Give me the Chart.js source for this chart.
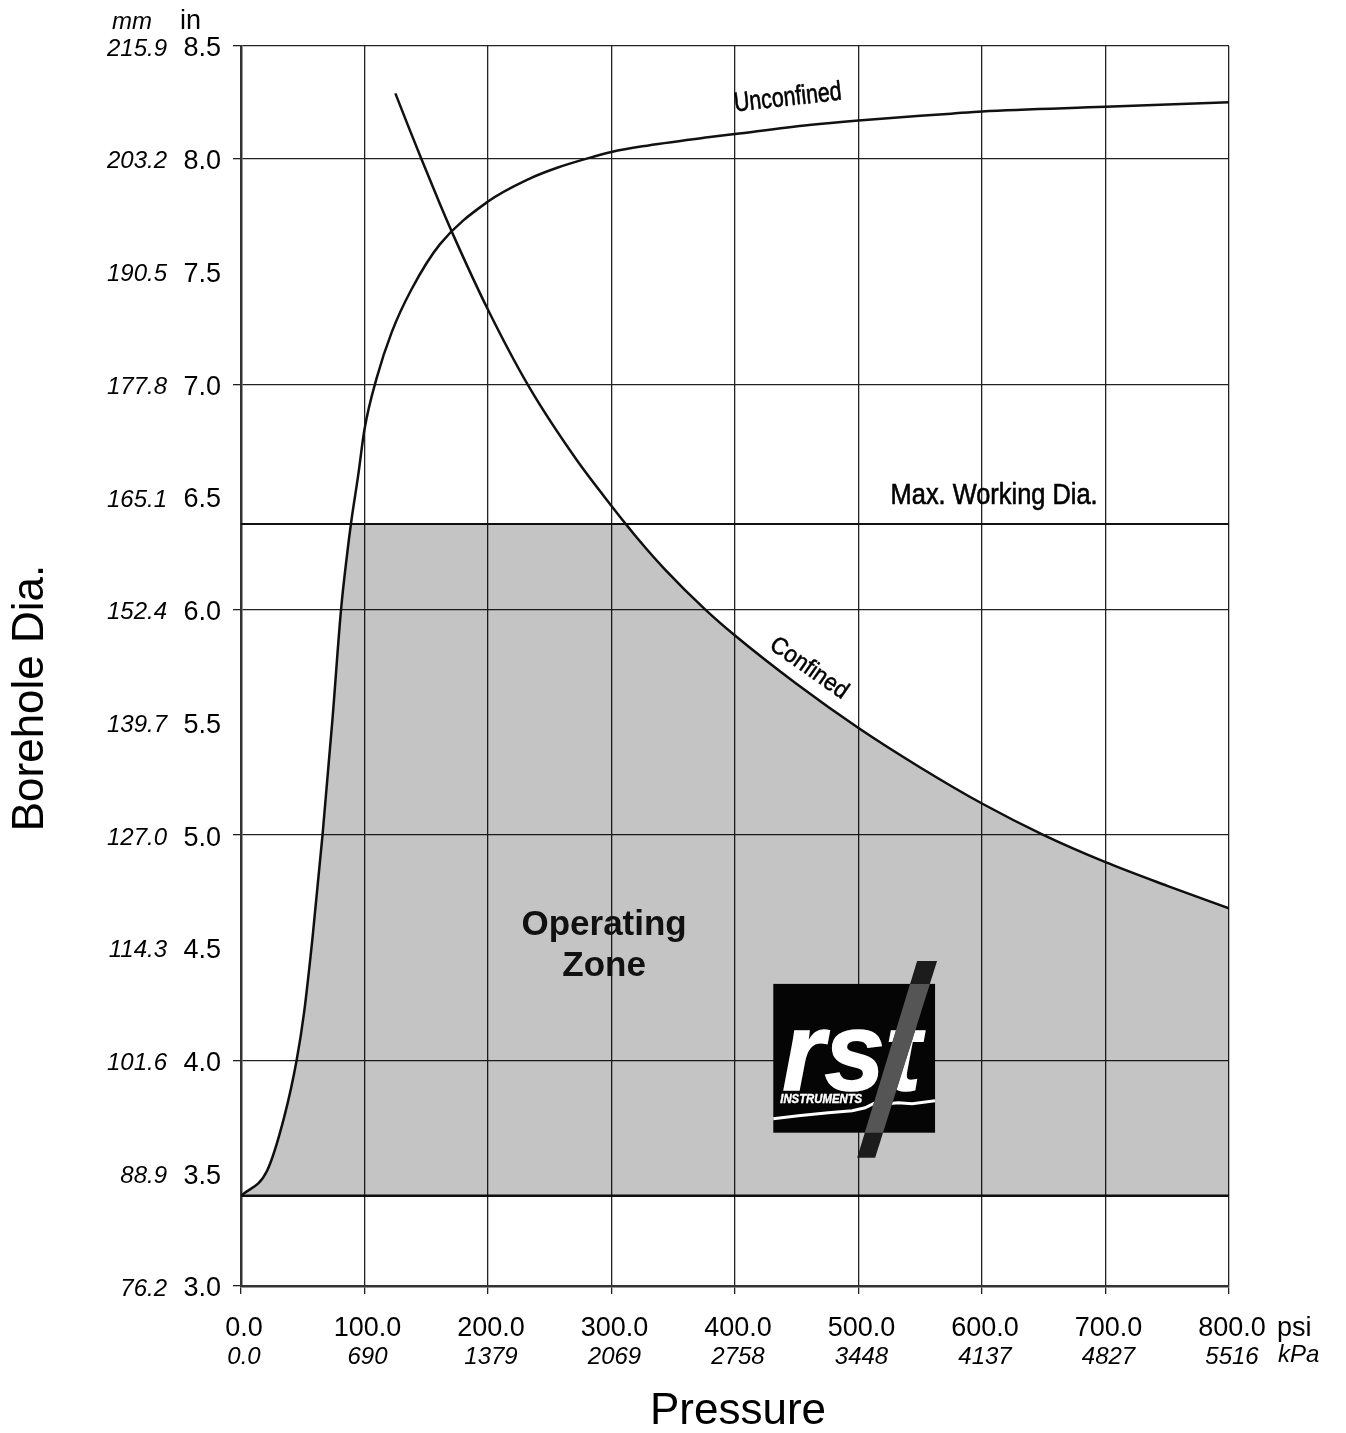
<!DOCTYPE html>
<html>
<head>
<meta charset="utf-8">
<script src="https://cdn.jsdelivr.net/npm/chart.js@4.4.0/dist/chart.umd.min.js"></script>
<style>
  html, body { margin: 0; padding: 0; background: #fff; }
  #wrap { width: 1346px; height: 1433px; position: relative; }
</style>
</head>
<body>
<div id="wrap"><canvas id="chart"></canvas></div>
<script>
// x axis: pressure in psi, with kPa under it
const psiTicks = [0, 100, 200, 300, 400, 500, 600, 700, 800]
const psiLabels = ['0.0', '100.0', '200.0', '300.0', '400.0', '500.0', '600.0', '700.0', '800.0']
const kpaLabels = ['0.0', '690', '1379', '2069', '2758', '3448', '4137', '4827', '5516']

// y axis: borehole dia in inches, with mm beside it
const inTicks = [3.0, 3.5, 4.0, 4.5, 5.0, 5.5, 6.0, 6.5, 7.0, 7.5, 8.0, 8.5]
const inLabels = ['3.0', '3.5', '4.0', '4.5', '5.0', '5.5', '6.0', '6.5', '7.0', '7.5', '8.0', '8.5']
const mmLabels = ['76.2', '88.9', '101.6', '114.3', '127.0', '139.7', '152.4', '165.1', '177.8', '190.5', '203.2', '215.9']

// curves
const unconfinedPsi = [0, 21, 35, 45, 51, 58, 66, 74, 81, 86, 89, 95, 100, 110, 122, 138, 161, 200, 233, 256, 286, 300, 325, 378, 400, 460, 500, 575, 600, 700, 800]
const unconfinedIn = [3.40, 3.51, 3.75, 4.00, 4.21, 4.55, 5.00, 5.51, 6.00, 6.25, 6.38, 6.60, 6.80, 7.03, 7.23, 7.42, 7.62, 7.81, 7.91, 7.96, 8.01, 8.03, 8.055, 8.095, 8.11, 8.15, 8.17, 8.20, 8.21, 8.23, 8.25]

const confinedPsi = [125, 135, 146, 161, 172, 200, 233, 271, 300, 322, 343, 376, 400, 450, 500, 550, 600, 650, 700, 750, 800]
const confinedIn = [8.29, 8.15, 8.00, 7.80, 7.66, 7.33, 6.99, 6.67, 6.46, 6.31, 6.18, 6.00, 5.885, 5.67, 5.475, 5.30, 5.14, 5.00, 4.88, 4.775, 4.675]

const maxWorkingDia = 6.38
const minDia = 3.40

const FONT = '"Liberation Sans", Arial, Helvetica, sans-serif'

function toPoints(xs, ys) {
  return xs.map((x, i) => ({ x: x, y: ys[i] }))
}

function crossing(xs, ys, level) {
  for (let i = 1; i < xs.length; i++) {
    const a = ys[i - 1] - level, b = ys[i] - level
    if (a === 0) return xs[i - 1]
    if (b === 0) return xs[i]
    if (a * b < 0) return xs[i - 1] + (xs[i] - xs[i - 1]) * a / (a - b)
  }
}

// operating zone: under both curves and under the max working dia
const uCross = crossing(unconfinedPsi, unconfinedIn, maxWorkingDia)
const cCross = crossing(confinedPsi, confinedIn, maxWorkingDia)
const zone = toPoints(unconfinedPsi, unconfinedIn).filter(p => p.x < uCross)
  .concat([{ x: uCross, y: maxWorkingDia }, { x: cCross, y: maxWorkingDia }])
  .concat(toPoints(confinedPsi, confinedIn).filter(p => p.x > cCross))

const half = v => Math.abs(v - Math.round(v)) > 1e-6

function fitText(ctx, text, font, size, width, x, y, bold) {
  ctx.font = font.replace('SIZE', size + 'px')
  const w = ctx.measureText(text).width
  ctx.save()
  ctx.translate(x, y)
  ctx.scale(width / w, 1)
  ctx.fillText(text, 0, 0)
  if (bold) {
    ctx.lineWidth = bold
    ctx.strokeStyle = ctx.fillStyle
    ctx.strokeText(text, 0, 0)
  }
  ctx.restore()
}

const labels = {
  id: 'labels',
  afterDraw(chart) {
    const ctx = chart.ctx
    const xs = chart.scales.x, ys = chart.scales.y
    const area = chart.chartArea
    ctx.save()
    ctx.fillStyle = '#000'

    // y tick labels
    ctx.textBaseline = 'middle'
    ctx.textAlign = 'right'
    inTicks.forEach((v, i) => {
      const py = ys.getPixelForValue(v) + 3
      ctx.font = '27px ' + FONT
      ctx.fillText(inLabels[i], area.left - 20, py)
      ctx.font = 'italic 24px ' + FONT
      ctx.fillText(mmLabels[i], area.left - 74, py)
    })
    ctx.textBaseline = 'alphabetic'
    ctx.font = 'italic 24px ' + FONT
    ctx.fillText('mm', area.left - 89, area.top - 17)
    ctx.textAlign = 'left'
    ctx.font = '27px ' + FONT
    ctx.fillText('in', area.left - 61, area.top - 17)

    // x tick labels
    ctx.textBaseline = 'middle'
    ctx.textAlign = 'center'
    psiTicks.forEach((v, i) => {
      const px = xs.getPixelForValue(v) + 3
      ctx.font = '27px ' + FONT
      ctx.fillText(psiLabels[i], px, area.bottom + 43)
      ctx.font = 'italic 24px ' + FONT
      ctx.fillText(kpaLabels[i], px, area.bottom + 71)
    })
    ctx.textAlign = 'left'
    ctx.font = '27px ' + FONT
    ctx.fillText('psi', area.right + 48, area.bottom + 43)
    ctx.font = 'italic 24px ' + FONT
    ctx.fillText('kPa', area.right + 49, area.bottom + 69)

    // axis titles
    ctx.textAlign = 'center'
    ctx.font = '44px ' + FONT
    ctx.fillText('Pressure', (area.left + area.right) / 2 + 3, area.bottom + 126)
    ctx.save()
    ctx.translate(31, (area.top + area.bottom) / 2 + 32)
    ctx.rotate(-Math.PI / 2)
    ctx.fillText('Borehole Dia.', 0, 0)
    ctx.restore()

    // curve labels
    ctx.textAlign = 'left'
    ctx.textBaseline = 'alphabetic'
    ctx.save()
    ctx.translate(xs.getPixelForValue(400), ys.getPixelForValue(8.21))
    ctx.rotate(-6.3 * Math.PI / 180)
    fitText(ctx, 'Unconfined', 'SIZE ' + FONT, 27, 108, 0, 0, 0.6)
    ctx.restore()

    fitText(ctx, 'Max. Working Dia.', 'SIZE ' + FONT, 29, 207, xs.getPixelForValue(526), ys.getPixelForValue(6.47), 0.6)

    ctx.save()
    ctx.translate(xs.getPixelForValue(427), ys.getPixelForValue(5.83))
    ctx.rotate(35 * Math.PI / 180)
    fitText(ctx, 'Confined', 'SIZE ' + FONT, 24, 90, 0, 0, 0.5)
    ctx.restore()

    // zone label
    ctx.textAlign = 'center'
    ctx.textBaseline = 'middle'
    ctx.fillStyle = '#111'
    ctx.font = 'bold 35px ' + FONT
    const zx = xs.getPixelForValue(294)
    ctx.fillText('Operating', zx, ys.getPixelForValue(4.60))
    ctx.fillText('Zone', zx, ys.getPixelForValue(4.42))

    drawLogo(ctx, xs, ys)
    ctx.restore()
  }
}

function drawLogo(ctx, xs, ys) {
  const L = xs.getPixelForValue(431), R = xs.getPixelForValue(562)
  const T = ys.getPixelForValue(4.34), B = ys.getPixelForValue(3.68)
  const sx = (R - L) / 162, sy = (B - T) / 149
  const P = (x, y) => [L + x * sx, T + y * sy]

  ctx.save()
  ctx.fillStyle = '#050505'
  ctx.fillRect(L, T, R - L, B - T)

  ctx.fillStyle = '#fff'
  ctx.textAlign = 'left'
  ctx.textBaseline = 'alphabetic'
  fitText(ctx, 'rst', 'italic bold SIZE ' + FONT, 112 * sy, 139 * sx, L + 9 * sx, T + 106 * sy, 1.5)
  fitText(ctx, 'INSTRUMENTS', 'italic bold SIZE ' + FONT, 12 * sy, 82 * sx, L + 7 * sx, T + 119 * sy, 0.4)

  const wave = [[0, 135], [25, 132], [55, 129], [79, 127], [92, 124], [102, 119], [115, 120], [125, 119], [139, 120], [162, 117]]
  ctx.strokeStyle = '#fff'
  ctx.lineWidth = 3
  ctx.beginPath()
  wave.forEach((p, i) => {
    const q = P(p[0], p[1])
    i ? ctx.lineTo(q[0], q[1]) : ctx.moveTo(q[0], q[1])
  })
  ctx.stroke()

  const stripe = () => {
    ctx.beginPath()
    const pts = [[144, -23], [164, -23], [102, 174], [84, 174]]
    pts.forEach((p, i) => {
      const q = P(p[0], p[1])
      i ? ctx.lineTo(q[0], q[1]) : ctx.moveTo(q[0], q[1])
    })
    ctx.closePath()
  }
  ctx.fillStyle = '#1c1c1c'
  stripe()
  ctx.fill()
  ctx.save()
  ctx.beginPath()
  ctx.rect(L, T, R - L, B - T)
  ctx.clip()
  ctx.fillStyle = 'rgba(95,95,95,0.85)'
  stripe()
  ctx.fill()
  ctx.restore()
  ctx.restore()
}

const lineStyle = {
  borderColor: '#111',
  borderWidth: 2.5,
  pointRadius: 0,
  fill: false,
  cubicInterpolationMode: 'monotone'
}

new Chart(document.getElementById('chart'), {
  type: 'line',
  data: {
    datasets: [
      {
        data: zone,
        borderWidth: 0,
        borderColor: 'rgba(0,0,0,0)',
        pointRadius: 0,
        cubicInterpolationMode: 'monotone',
        backgroundColor: 'rgba(0,0,0,0.23)',
        fill: { value: minDia }
      },
      Object.assign({ data: toPoints(unconfinedPsi, unconfinedIn) }, lineStyle),
      Object.assign({ data: toPoints(confinedPsi, confinedIn) }, lineStyle),
      Object.assign({ data: [{ x: 0, y: maxWorkingDia }, { x: 800, y: maxWorkingDia }] }, lineStyle, { borderWidth: 2 }),
      Object.assign({ data: [{ x: 0, y: minDia }, { x: 800, y: minDia }] }, lineStyle, { borderWidth: 2.5 })
    ]
  },
  options: {
    responsive: true,
    maintainAspectRatio: false,
    devicePixelRatio: 1,
    animation: false,
    layout: { padding: { top: 46, right: 117, left: 0, bottom: 0 } },
    plugins: { legend: { display: false }, tooltip: { enabled: false } },
    scales: {
      x: {
        type: 'linear',
        min: 0,
        max: 800,
        ticks: { stepSize: 100, display: false },
        grid: { color: '#222', lineWidth: 1.3, tickLength: 8 },
        border: { color: '#333', width: 2.5 },
        afterFit: s => { s.height = 147 }
      },
      y: {
        type: 'linear',
        min: 3,
        max: 8.5,
        ticks: { stepSize: 0.5, display: false },
        grid: {
          color: c => (c.tick && half(c.tick.value) && c.tick.value < 8.4) ? 'rgba(0,0,0,0)' : '#222',
          lineWidth: 1.3,
          tickLength: 8
        },
        border: { color: '#333', width: 2.5 },
        afterFit: s => { s.width = 241 }
      }
    }
  },
  plugins: [labels]
})
</script>
</body>
</html>
